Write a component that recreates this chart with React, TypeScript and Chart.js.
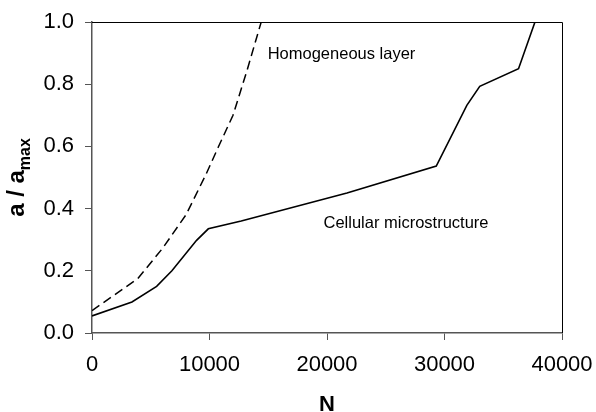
import React, { useEffect, useRef } from "react";
import { Chart, registerables } from "chart.js";

Chart.register(...registerables);

const SOLID_N = [0, 3400, 5500, 6800, 8900, 9900, 12700, 21700, 29300, 31900, 33000, 36300, 37700];
const SOLID_A = [0.055, 0.1, 0.15, 0.2, 0.298, 0.335, 0.36, 0.45, 0.537, 0.732, 0.793, 0.85, 1.0];
const DASH_N = [0, 3900, 6000, 8000, 9700, 10750, 12000, 13200, 14400];
const DASH_A = [0.072, 0.175, 0.272, 0.38, 0.51, 0.598, 0.7, 0.845, 1.0];

const X_TICKS = [0, 10000, 20000, 30000, 40000];
const Y_TICKS = [0, 0.2, 0.4, 0.6, 0.8, 1.0];

const LABEL_HOMOG = { text: "Homogeneous layer", n: 14950, a: 0.882 };
const LABEL_CELL = { text: "Cellular microstructure", n: 19700, a: 0.339 };

const FONT = "'Liberation Sans', Arial, Helvetica, sans-serif";

const overlay = {
  id: "overlay",
  afterDraw(chart: any) {
    const { ctx, chartArea, scales } = chart;
    const xs = scales.x;
    const ys = scales.y;
    ctx.save();
    // frame top/right
    ctx.strokeStyle = "#000";
    ctx.lineWidth = 1;
    ctx.beginPath();
    ctx.moveTo(chartArea.left, chartArea.top + 0.5);
    ctx.lineTo(chartArea.right + 0.5, chartArea.top + 0.5);
    ctx.lineTo(chartArea.right + 0.5, chartArea.bottom);
    ctx.stroke();

    // annotations
    ctx.fillStyle = "#000";
    ctx.font = `16.5px ${FONT}`;
    ctx.textBaseline = "alphabetic";
    ctx.textAlign = "left";
    for (const l of [LABEL_HOMOG, LABEL_CELL]) {
      ctx.fillText(l.text, xs.getPixelForValue(l.n), ys.getPixelForValue(l.a));
    }

    // x title
    ctx.font = `bold 22px ${FONT}`;
    ctx.textAlign = "center";
    ctx.fillText("N", (chartArea.left + chartArea.right) / 2, 411);

    // y title with subscript
    const cy = (chartArea.top + chartArea.bottom) / 2;
    ctx.translate(24, cy);
    ctx.rotate(-Math.PI / 2);
    const mainFont = `bold 24px ${FONT}`;
    const subFont = `bold 16px ${FONT}`;
    ctx.font = mainFont;
    const w1 = ctx.measureText("a / a").width;
    ctx.font = subFont;
    const w2 = ctx.measureText("max").width;
    const start = -(w1 + w2) / 2;
    ctx.textAlign = "left";
    ctx.font = mainFont;
    ctx.fillText("a / a", start, 0);
    ctx.font = subFont;
    ctx.fillText("max", start + w1, 6);
    ctx.restore();
  },
};

export default function App() {
  const ref = useRef<HTMLCanvasElement>(null);
  useEffect(() => {
    if (!ref.current) return;
    const chart = new Chart(ref.current, {
      type: "line",
      data: {
        datasets: [
          {
            label: "Homogeneous layer",
            data: DASH_N.map((n, i) => ({ x: n, y: DASH_A[i] })),
            borderColor: "#000",
            borderWidth: 1.5,
            borderDash: [9, 5],
            pointRadius: 0,
            tension: 0,
          },
          {
            label: "Cellular microstructure",
            data: SOLID_N.map((n, i) => ({ x: n, y: SOLID_A[i] })),
            borderColor: "#000",
            borderWidth: 1.6,
            pointRadius: 0,
            tension: 0,
          },
        ],
      },
      options: {
        responsive: false,
        animation: false,
        devicePixelRatio: 1,
        layout: { padding: { top: 22, right: 34, left: 0, bottom: 0 } },
        plugins: { legend: { display: false }, tooltip: { enabled: false } },
        scales: {
          x: {
            type: "linear",
            min: 0,
            max: 40000,
            afterFit: (s: any) => {
              s.height = 79;
              s.paddingLeft = 0;
              s.paddingRight = 0;
            },
            afterBuildTicks: (s: any) => {
              s.ticks = X_TICKS.map((v) => ({ value: v }));
            },
            ticks: {
              color: "#000",
              font: { family: FONT, size: 22 },
              padding: 12,
              maxRotation: 0,
              callback: (v: any) => String(v),
            },
            grid: { drawOnChartArea: false, drawTicks: true, tickLength: 7, color: "#555", lineWidth: 1 },
            border: { color: "#555", width: 1.5 },
          },
          y: {
            type: "linear",
            min: 0,
            max: 1,
            afterFit: (s: any) => {
              s.width = 92;
              s.paddingTop = 0;
              s.paddingBottom = 0;
            },
            afterBuildTicks: (s: any) => {
              s.ticks = Y_TICKS.map((v) => ({ value: v }));
            },
            ticks: {
              color: "#000",
              font: { family: FONT, size: 22 },
              padding: 11,
              callback: (v: any) => Number(v).toFixed(1),
            },
            grid: { drawOnChartArea: false, drawTicks: true, tickLength: 7, color: "#555", lineWidth: 1 },
            border: { color: "#555", width: 1.5 },
          },
        },
      },
      plugins: [overlay],
    });
    return () => chart.destroy();
  }, []);
  return (
    <div style={{ position: "absolute", left: 0, top: 0, width: 596, height: 412, background: "#fff" }}>
      <canvas ref={ref} width={596} height={412} style={{ display: "block" }} />
    </div>
  );
}
